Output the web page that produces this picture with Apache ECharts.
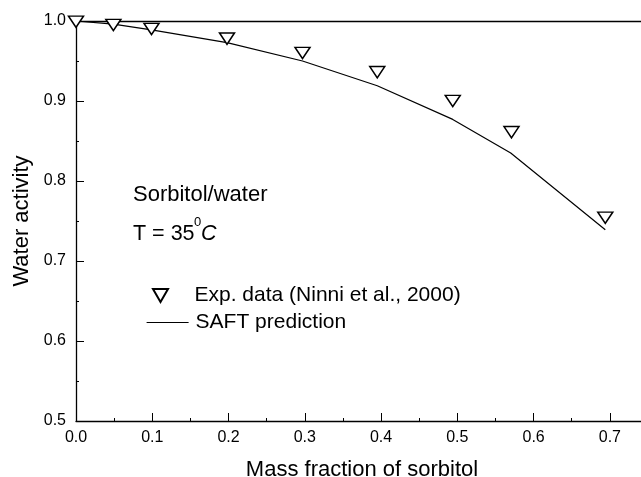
<!DOCTYPE html>
<html>
<head>
<meta charset="utf-8">
<script src="https://cdn.jsdelivr.net/npm/echarts@6/dist/echarts.min.js"></script>
<style>
html,body{margin:0;padding:0;background:#fff;}
#chart{width:641px;height:477px;}
</style>
</head>
<body>
<div id="chart"></div>
<script>
// ---- data ----
var expX = [0.0, 0.049, 0.099, 0.198, 0.297, 0.395, 0.494, 0.571, 0.694];
var expY = [0.999, 0.995, 0.990, 0.978, 0.960, 0.936, 0.900, 0.861, 0.754];
var saftX = [0.0, 0.049, 0.099, 0.198, 0.297, 0.395, 0.494, 0.570, 0.694];
var saftY = [1.0, 0.996, 0.989, 0.973, 0.950, 0.919, 0.877, 0.835, 0.739];
var xTicks = [0.0, 0.1, 0.2, 0.3, 0.4, 0.5, 0.6, 0.7];
var yTicks = [0.5, 0.6, 0.7, 0.8, 0.9, 1.0];
var expName = 'Exp. data (Ninni et al., 2000)';
var saftName = 'SAFT prediction';

var FONT = "'Liberation Sans', Arial, Helvetica, sans-serif";
var TRI = 'path://M0,0L15,0L7.5,13Z';

function pairs(xs, ys) { return xs.map(function (x, i) { return [x, ys[i]]; }); }
function isTick(list, v) { return list.some(function (t) { return Math.abs(t - v) < 1e-6; }); }

var chart = echarts.init(document.getElementById('chart'), null, {renderer: 'canvas'});
chart.setOption({
  animation: false,
  backgroundColor: '#fff',
  textStyle: {fontFamily: FONT, color: '#000'},
  grid: {left: 76, right: -7, top: 21, bottom: 56, containLabel: false, outerBoundsMode: 'none'},
  xAxis: [{
    type: 'value', min: 0, max: 0.75, interval: 0.1,
    name: 'Mass fraction of sorbitol', nameLocation: 'middle', nameGap: 38,
    nameTextStyle: {fontSize: 22, fontFamily: FONT, color: '#000'},
    axisLine: {lineStyle: {color: '#000', width: 1.3}},
    axisTick: {inside: true, length: 8, lineStyle: {color: '#000'}},
    minorTick: {show: true, splitNumber: 2, length: 3, lineStyle: {color: '#000'}},
    axisLabel: {fontSize: 16, color: '#000', margin: 9, fontFamily: FONT,
      formatter: function (v) { return isTick(xTicks, v) ? v.toFixed(1) : ''; }},
    splitLine: {show: false}
  }, {
    type: 'value', min: 0, max: 0.75, position: 'top',
    axisLine: {show: true, onZero: false, lineStyle: {color: '#000', width: 1.3}},
    axisTick: {show: false}, axisLabel: {show: false}, splitLine: {show: false}
  }],
  yAxis: {
    type: 'value', min: 0.5, max: 1.0, interval: 0.1,
    name: 'Water activity', nameLocation: 'middle', nameGap: 42, nameRotate: 90,
    nameTextStyle: {fontSize: 22, fontFamily: FONT, color: '#000'},
    axisLine: {show: true, lineStyle: {color: '#000', width: 1.3}},
    axisTick: {inside: true, length: 8, lineStyle: {color: '#000'}},
    minorTick: {show: true, splitNumber: 2, length: 3, lineStyle: {color: '#000'}},
    axisLabel: {fontSize: 16, color: '#000', margin: 10, fontFamily: FONT,
      formatter: function (v) { return isTick(yTicks, v) ? v.toFixed(1) : ''; }},
    splitLine: {show: false}
  },
  legend: [{
    data: [{name: expName, icon: TRI}],
    orient: 'vertical', left: 152, top: 285, padding: 0,
    itemWidth: 58, itemHeight: 13, symbolKeepAspect: true,
    textStyle: {fontSize: 21, fontFamily: FONT, color: '#000'}
  }, {
    data: [{name: saftName}],
    orient: 'vertical', left: 146, top: 312, padding: 0,
    itemWidth: 42, itemHeight: 13,
    itemStyle: {opacity: 0},
    lineStyle: {color: '#000', width: 1.2},
    textStyle: {fontSize: 21, fontFamily: FONT, color: '#000', padding: [0, 0, 0, 2]}
  }],
  graphic: [
    {type: 'text', left: 133, top: 184, style: {text: 'Sorbitol/water', font: '22px ' + FONT, fill: '#000'}},
    {type: 'text', left: 133, top: 223, style: {text: 'T = 35', font: '21.5px ' + FONT, fill: '#000'}},
    {type: 'text', left: 194, top: 216, style: {text: '0', font: '13px ' + FONT, fill: '#000'}},
    {type: 'text', left: 201, top: 223, style: {text: 'C', font: 'italic 21.5px ' + FONT, fill: '#000'}}
  ],
  series: [{
    name: saftName, type: 'line', data: pairs(saftX, saftY),
    symbol: 'none', clip: false, z: 2,
    itemStyle: {color: '#000'},
    lineStyle: {color: '#000', width: 1.2}
  }, {
    name: expName, type: 'scatter', data: pairs(expX, expY),
    symbol: TRI, symbolSize: [15, 13], symbolKeepAspect: true, clip: false, z: 3,
    itemStyle: {color: '#fff', borderColor: '#000', borderWidth: 1.5, opacity: 1}
  }]
});
</script>
</body>
</html>
